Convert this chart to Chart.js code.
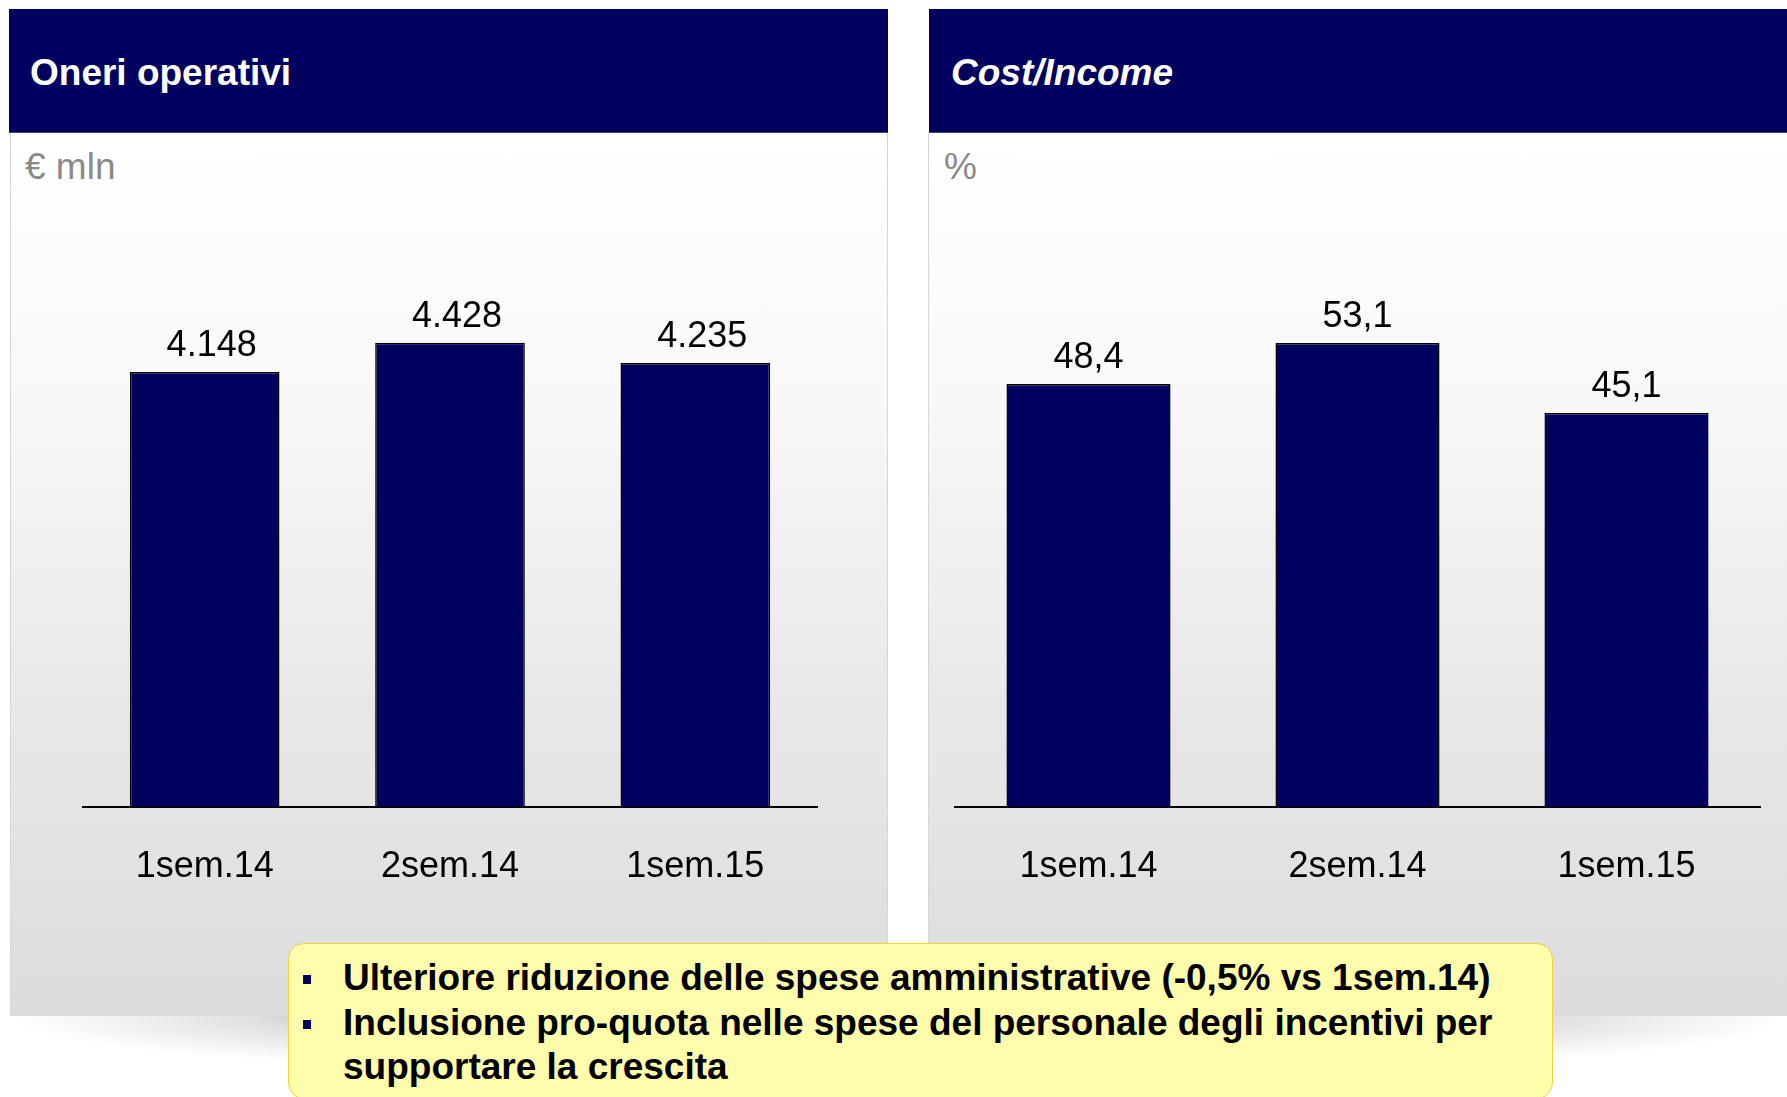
<!DOCTYPE html>
<html>
<head>
<meta charset="utf-8">
<script src="https://cdn.jsdelivr.net/npm/chart.js@4/dist/chart.umd.min.js"></script>
<style>
  html, body { margin: 0; padding: 0; background: #fff; }
  body { width: 1787px; height: 1097px; position: relative; overflow: hidden;
         font-family: "Liberation Sans", Arial, sans-serif; }
  .shadow { position: absolute; top: 1016px; height: 48px;
            background: radial-gradient(ellipse 50% 100% at 50% 0%, rgba(0,0,0,0.36), rgba(0,0,0,0.12) 45%, rgba(0,0,0,0) 100%); }
  .panel { position: absolute; top: 133px; height: 883px; box-sizing: border-box;
           border-left: 1px solid #d6d6d6; border-right: 1px solid #d6d6d6;
           background: linear-gradient(to bottom, #ffffff 0%, #f8f8f8 30%, #e8e8e8 65%, #dcdcdc 100%); }
  .header { position: absolute; top: 9px; height: 124px; background: #01005f;
            border-bottom: 1px solid #2b4a7c; box-sizing: border-box; }
  .header span { position: absolute; top: 42px; color: #fff; font-weight: bold; font-size: 37px; line-height: 44px; }
  .unit { position: absolute; top: 146px; color: #8a8a8a; font-size: 37px; line-height: 42px; }
  canvas { position: absolute; }
  .note { position: absolute; left: 288px; top: 943px; width: 1265px; height: 156px; box-sizing: border-box;
          background: #fffcab; border: 1px solid #f0d23a; border-radius: 16px; }
  .note .txt { position: absolute; left: 54px; top: 12px; font-weight: bold; font-size: 37px; line-height: 44.5px; color: #000; white-space: nowrap; }
  .note .b { position: absolute; left: 14px; width: 8px; height: 9px; background: #01005f; }
</style>
</head>
<body>
<div class="shadow" style="left:11px; width:877px;"></div>
<div class="shadow" style="left:929px; width:858px;"></div>

<div class="panel" style="left:10px; width:878px;"></div>
<div class="panel" style="left:928px; width:870px;"></div>

<div class="header" style="left:9px; width:879px;"><span style="left:21px;">Oneri operativi</span></div>
<div class="header" style="left:929px; width:858px;"><span style="left:22px; font-style:italic;">Cost/Income</span></div>

<div class="unit" style="left:25px;">€ mln</div>
<div class="unit" style="left:944px;">%</div>

<canvas id="chartLeft" width="736" height="795" style="left:82px; top:133px;"></canvas>
<canvas id="chartRight" width="807" height="795" style="left:954px; top:133px;"></canvas>

<div class="note">
  <div class="b" style="top:31px;"></div>
  <div class="b" style="top:76px;"></div>
  <div class="txt">Ulteriore riduzione delle spese amministrative (-0,5% vs 1sem.14)<br>Inclusione pro-quota nelle spese del personale degli incentivi per<br>supportare la crescita</div>
</div>

<script>
const categories = ['1sem.14', '2sem.14', '1sem.15'];
const oneriValues = [4148, 4428, 4235];       // € mln
const costIncomeValues = [48.4, 53.1, 45.1];  // %

const NAVY = '#01005f';
const FONT = '"Liberation Sans", Arial, sans-serif';

function fmtThousands(v) {
  return String(v).replace(/\B(?=(\d{3})+(?!\d))/g, '.');
}
function fmtDecimal(v) {
  return v.toFixed(1).replace('.', ',');
}

function labelPlugin(fmt, dx) {
  return {
    id: 'valueLabels',
    afterDatasetsDraw(chart) {
      const ctx = chart.ctx;
      const values = chart.data.datasets[0].data;
      ctx.save();
      ctx.font = '36px ' + FONT;
      ctx.fillStyle = '#000';
      ctx.textAlign = 'center';
      ctx.textBaseline = 'alphabetic';
      chart.getDatasetMeta(0).data.forEach(function (bar, i) {
        ctx.fillText(fmt(values[i]), bar.x + dx, bar.y - 16);
      });
      ctx.restore();
    }
  };
}

function makeBarChart(id, values, yMax, fmt, dx) {
  const ctx = document.getElementById(id).getContext('2d');
  return new Chart(ctx, {
    type: 'bar',
    data: {
      labels: categories,
      datasets: [{
        data: values,
        backgroundColor: NAVY,
        borderColor: '#000',
        borderWidth: 1.5,
        barPercentage: 0.61,
        categoryPercentage: 1
      }]
    },
    options: {
      responsive: false,
      animation: false,
      layout: { padding: { top: 45, bottom: 0, left: 0, right: 0 } },
      plugins: {
        legend: { display: false },
        tooltip: { enabled: false }
      },
      scales: {
        x: {
          grid: { display: false, drawTicks: false },
          border: { display: true, color: '#000', width: 2 },
          ticks: { color: '#000', padding: 39, font: { family: FONT, size: 36 } }
        },
        y: { display: false, min: 0, max: yMax }
      }
    },
    plugins: [labelPlugin(fmt, dx)]
  });
}

makeBarChart('chartLeft', oneriValues, 6000, fmtThousands, 7);
makeBarChart('chartRight', costIncomeValues, 72, fmtDecimal, 0);
</script>
</body>
</html>
